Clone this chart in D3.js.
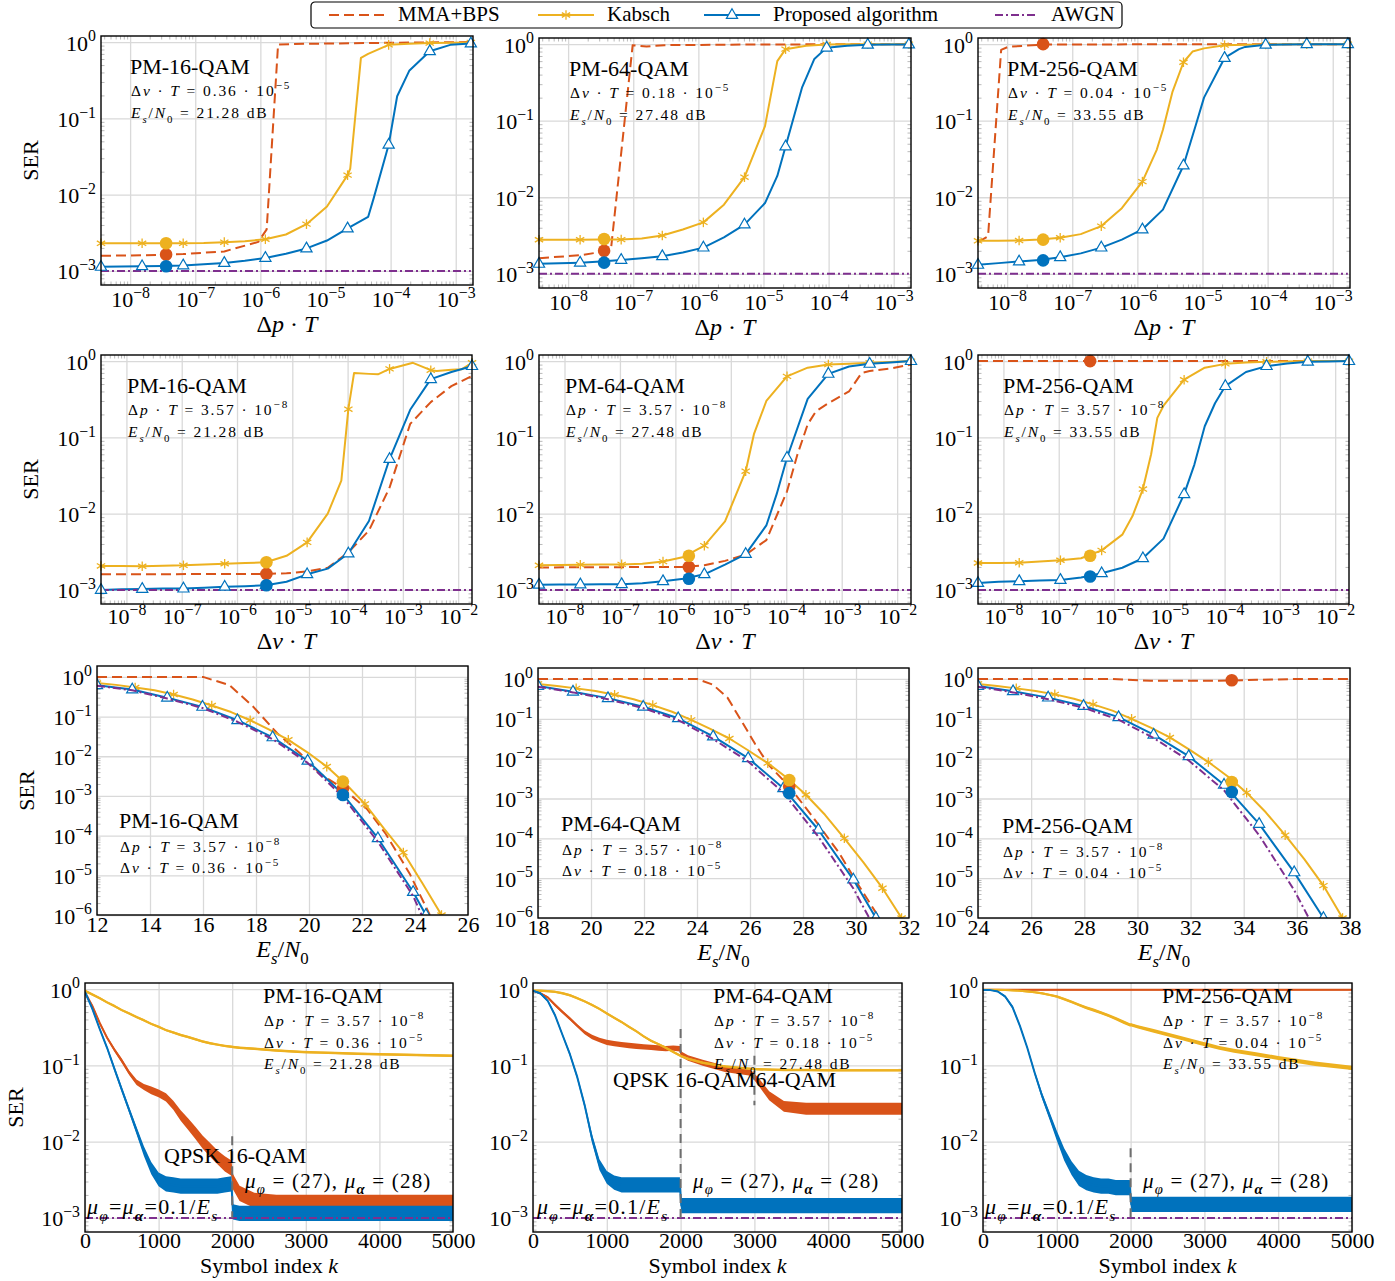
<!DOCTYPE html>
<html><head><meta charset="utf-8">
<script src="https://cdn.jsdelivr.net/npm/d3@7"></script>
<style>
html,body{margin:0;padding:0;background:#fff;}
svg text{font-family:"Liberation Serif","Times New Roman",serif;fill:#000;}
</style></head><body>
<svg id="chart" width="1395" height="1281" xmlns="http://www.w3.org/2000/svg"></svg>
<script>
// ---------------- DATA ----------------
const SERIES_NAMES = ['MMA+BPS','Kabsch','Proposed algorithm','AWGN'];
const MODS = ['PM-16-QAM','PM-64-QAM','PM-256-QAM'];
const DNU_LAB = ['0.36','0.18','0.04'];
const ESN0_LAB = ['21.28','27.48','33.55'];
const DP_LAB = '3.57';
const SWITCH_LAB = ['QPSK 16-QAM','QPSK 16-QAM64-QAM','']; 

const XT_DP = [1e-8,1e-7,1e-6,1e-5,1e-4,1e-3];
const XT_DNU = [1e-8,1e-7,1e-6,1e-5,1e-4,1e-3,1e-2];
const YT_A = [1e-3,1e-2,1e-1,1];
const YT_B = [1e-6,1e-5,1e-4,1e-3,1e-2,1e-1,1];
const XT_ES = [[12,14,16,18,20,22,24,26],[18,20,22,24,26,28,30,32],[24,26,28,30,32,34,36,38]];
const XT_K = [0,1000,2000,3000,4000,5000];

// row 1 grid (Δp·T) and row 2 grid (Δν·T)
const G1 = [3.573e-9,7.386e-9,1.528e-8,3.159e-8,6.531e-8,1.351e-7,2.793e-7,5.775e-7,1.194e-6,2.469e-6,5.105e-6,1.055e-5,2.183e-5,4.513e-5,9.333e-5,1.930e-4,3.990e-4,8.25e-4,1.706e-3];
const G2 = [3.467e-9,8.18e-9,1.93e-8,4.55e-8,1.074e-7,2.535e-7,5.98e-7,1.411e-6,3.33e-6,7.86e-6,1.854e-5,4.373e-5,1.032e-4,2.434e-4,5.743e-4,1.355e-3,3.197e-3,7.54e-3,1.78e-2];

// Row 1
const R1C1_KAB = [2.3e-3,2.3e-3,2.3e-3,2.3e-3,2.3e-3,2.32e-3,2.38e-3,2.45e-3,2.6e-3,3.0e-3,4.1e-3,7.0e-3,1.8e-2,0.7,0.92,0.95,0.97,0.98,0.99];
const R1C1_KAB_X = [[2.4e-5,2.2e-2],[3.5e-5,0.62]];
const R1C1_PROP = [1.13e-3,1.14e-3,1.15e-3,1.16e-3,1.18e-3,1.22e-3,1.27e-3,1.36e-3,1.48e-3,1.68e-3,1.97e-3,2.5e-3,3.6e-3,5.1e-3,4.5e-2,0.42,0.76,0.92,0.96];
const R1C1_PROP_X = [[5.5e-5,9e-3],[1.26e-4,0.195]];
const R1C1_MMA = [[3.573e-9,1.58e-3],[1.528e-8,1.6e-3],[6.531e-8,1.66e-3],[2.793e-7,1.8e-3],[9.3e-7,2.4e-3],[1.25e-6,3.5e-3],[1.87e-6,0.93],[5e-6,0.95],[1e-4,0.98],[1.706e-3,1.0]];
const R1C1_DOTS = [1.64e-3,2.3e-3,1.15e-3];

const R1C2_KAB = [2.79e-3,2.79e-3,2.79e-3,2.8e-3,2.8e-3,2.9e-3,3.16e-3,3.8e-3,4.7e-3,8e-3,1.83e-2,8.5e-2,0.86,0.95,0.99,1.0,1.0,1.0,1.0];
const R1C2_KAB_X = [[1.63e-5,0.6]];
const R1C2_PROP = [1.35e-3,1.37e-3,1.4e-3,1.45e-3,1.52e-3,1.6e-3,1.7e-3,1.9e-3,2.2e-3,3.0e-3,4.4e-3,8.4e-3,4.6e-2,0.36,0.9,0.95,0.98,0.99,0.99];
const R1C2_PROP_X = [[1.63e-5,1.9e-2],[3.9e-5,0.27],[6.04e-5,0.64]];
const R1C2_MMA = [[3.573e-9,1.6e-3],[1.528e-8,1.75e-3],[3.5e-8,1.95e-3],[4.58e-8,2.2e-3],[9.8e-8,0.97],[1.6e-7,0.93],[3e-7,0.97],[1e-5,0.99],[1.706e-3,1.0]];
const R1C2_DOTS = [2.0e-3,2.85e-3,1.4e-3];

const R1C3_KAB = [2.7e-3,2.7e-3,2.72e-3,2.8e-3,2.96e-3,3.3e-3,4.2e-3,7.2e-3,1.6e-2,7.6e-2,0.58,0.88,0.97,0.98,0.99,1.0,1.0,1.0,1.0];
const R1C3_KAB_X = [[1.99e-6,4.2e-2],[3.47e-6,0.24],[7.03e-6,0.8]];
const R1C3_PROP = [1.31e-3,1.38e-3,1.45e-3,1.52e-3,1.65e-3,1.85e-3,2.2e-3,2.8e-3,3.8e-3,6.9e-3,2.6e-2,0.2,0.66,0.92,0.98,0.99,1.0,1.0,1.0];
const R1C3_PROP_X = [[7.9e-6,8.8e-2],[3.63e-5,0.86]];
const R1C3_MMA = [[3.573e-9,2.6e-3],[5.1e-9,3.1e-3],[8.1e-9,0.84],[1.03e-8,0.92],[3.57e-8,0.99],[1.706e-3,1.0]];
const R1C3_DOTS = [1.0,2.8e-3,1.5e-3];
const R1_DOT_X = [3.57e-8,3.57e-8,3.57e-8];
const R1_AWGN = [[3.573e-9,1e-3],[1.706e-3,1e-3]];

// Row 2
const R2C1_KAB = [2.06e-3,2.06e-3,2.04e-3,2.08e-3,2.1e-3,2.15e-3,2.2e-3,2.25e-3,2.3e-3,2.8e-3,4.2e-3,1.0e-2,0.234,0.68,0.79,0.93,0.76,0.77,0.95];
const R2C1_KAB_X = [[7.7e-5,2.7e-2],[1.31e-4,0.7],[3.54e-4,0.67],[1.52e-3,0.95],[4.1e-3,0.74],[1.15e-2,0.78]];
const R2C1_PROP = [1.0e-3,1.02e-3,1.03e-3,1.04e-3,1.04e-3,1.07e-3,1.1e-3,1.12e-3,1.15e-3,1.28e-3,1.6e-3,1.9e-3,3.0e-3,8e-3,5.2e-2,0.23,0.58,0.72,0.86];
const R2C1_PROP_X = [];
const R2C1_MMA = [[3.467e-9,1.6e-3],[3.33e-6,1.62e-3],[7.86e-6,1.65e-3],[1.854e-5,1.75e-3],[4.373e-5,1.95e-3],[1.032e-4,3.1e-3],[2.434e-4,6.0e-3],[5.743e-4,2.2e-2],[1.355e-3,0.15],[3.197e-3,0.29],[7.54e-3,0.47],[1.78e-2,0.64]];
const R2C1_DOTS = [1.62e-3,2.3e-3,1.15e-3];

const R2C2_KAB = [2.1e-3,2.12e-3,2.14e-3,2.16e-3,2.16e-3,2.2e-3,2.35e-3,2.7e-3,3.8e-3,7.9e-3,3.6e-2,0.3,0.63,0.82,0.9,0.92,0.95,0.97,1.0];
const R2C2_KAB_X = [[2.61e-5,0.11]];
const R2C2_PROP = [1.17e-3,1.18e-3,1.18e-3,1.19e-3,1.19e-3,1.22e-3,1.3e-3,1.4e-3,1.6e-3,2.15e-3,2.95e-3,7e-3,5.4e-2,0.32,0.68,0.85,0.92,0.96,1.0];
const R2C2_PROP_X = [[6.71e-5,1.8e-2]];
const R2C2_MMA = [[3.467e-9,1.97e-3],[1.411e-6,2.0e-3],[3.33e-6,2.1e-3],[7.86e-6,2.4e-3],[1.854e-5,2.9e-3],[4.373e-5,4.5e-3],[1.032e-4,1.96e-2],[1.585e-4,5.9e-2],[2.434e-4,0.148],[3.43e-4,0.22],[5.743e-4,0.28],[1.355e-3,0.4],[2.29e-3,0.7],[3.197e-3,0.74],[7.54e-3,0.8],[1.78e-2,0.9]];
const R2C2_DOTS = [2.0e-3,2.8e-3,1.4e-3];

const R2C3_KAB = [2.25e-3,2.25e-3,2.27e-3,2.35e-3,2.45e-3,2.6e-3,3.3e-3,5.3e-3,2.1e-2,0.26,0.57,0.82,0.92,0.96,0.98,0.99,1.0,1.0,1.0];
const R2C3_KAB_X = [[2.16e-6,9.3e-3],[4.69e-6,6e-2],[6.07e-6,0.18]];
const R2C3_PROP = [1.23e-3,1.28e-3,1.3e-3,1.33e-3,1.35e-3,1.45e-3,1.65e-3,1.95e-3,2.6e-3,4.7e-3,1.8e-2,0.14,0.47,0.72,0.86,0.93,0.98,0.99,1.0];
const R2C3_PROP_X = [[2.84e-5,4.4e-2],[6.71e-5,0.28]];
const R2C3_MMA = [[3.467e-9,1.0],[1.78e-2,1.0]];
const R2C3_DOTS = [1.0,2.8e-3,1.5e-3];
const R2_DOT_X = [3.4e-6,1.75e-6,3.7e-7];
const R2_AWGN = [[3.467e-9,1e-3],[1.78e-2,1e-3]];

// Row 3 (Es/N0)
const R3C1_KX = [12,12.72,13.44,14.17,14.89,15.61,16.33,17.06,17.78,18.5,19.22,19.94,20.67,21.39,22.11,22.83,23.56,24.28,25.0];
const R3C1_KAB = [0.7,0.63,0.54,0.46,0.36,0.27,0.19,0.13,0.081,0.047,0.026,0.0126,0.0055,0.002,6.3e-4,1.5e-4,3.75e-5,6.3e-6,1.0e-6];
const R3C1_PX = [12,13.33,14.65,15.98,17.3,18.63,19.95,21.28,22.6,23.93,24.41];
const R3C1_PROP = [0.62,0.48,0.3,0.176,0.081,0.03,7.7e-3,1.1e-3,8.6e-5,3.8e-6,1e-6];
const R3C1_AX = [12,13.33,14.65,15.98,17.3,18.63,19.95,21.28,22.6,23.93,24.25];
const R3C1_AWGN = [0.6,0.46,0.285,0.165,0.074,0.027,6.8e-3,9.5e-4,7e-5,3e-6,1e-6];
const R3C1_MMA = [[12,1.0],[16,1.0],[17,0.62],[17.9,0.176],[18.8,3.8e-2],[19.66,1.2e-2],[20.4,3.7e-3],[21.28,1.55e-3],[22.2,4.6e-4],[22.9,1.1e-4],[23.8,1.1e-5],[24.56,1e-6]];
const R3C1_DOTS = [1.55e-3,2.3e-3,1.06e-3];

const R3C2_KX = [18,18.72,19.44,20.17,20.89,21.61,22.33,23.06,23.78,24.5,25.22,25.94,26.67,27.39,28.11,28.83,29.56,30.28,31.0,31.72];
const R3C2_KAB = [0.75,0.67,0.58,0.5,0.4,0.31,0.22,0.15,0.094,0.056,0.032,0.016,7.7e-3,3.3e-3,1.24e-3,3.9e-4,1.0e-4,2.5e-5,5.6e-6,1e-6];
const R3C2_PX = [18,19.32,20.64,21.97,23.29,24.61,25.93,27.26,28.58,29.9,30.75];
const R3C2_PROP = [0.67,0.48,0.33,0.2,0.103,0.036,1.03e-2,1.8e-3,1.64e-4,9.2e-6,1e-6];
const R3C2_AX = [18,19.32,20.64,21.97,23.29,24.61,25.93,27.26,28.58,29.9,30.5];
const R3C2_AWGN = [0.64,0.46,0.31,0.185,0.093,0.031,8.5e-3,1.4e-3,1.1e-4,5.5e-6,1e-6];
const R3C2_MMA = [[18,1.0],[24,1.0],[24.6,0.72],[25.15,0.34],[25.73,0.077],[26.2,2.3e-2],[26.7,7e-3],[27.48,2.0e-3],[28.36,3.5e-4],[29.36,4.3e-5],[30.12,6.3e-6],[30.88,1e-6]];
const R3C2_DOTS = [2.0e-3,2.9e-3,1.36e-3];

const R3C3_KX = [24,24.72,25.44,26.17,26.89,27.61,28.33,29.06,29.78,30.5,31.22,31.94,32.67,33.39,34.11,34.83,35.56,36.28,37.0,37.72];
const R3C3_KAB = [0.75,0.67,0.58,0.5,0.41,0.32,0.23,0.16,0.1,0.06,0.034,0.017,8.2e-3,3.6e-3,1.4e-3,4.5e-4,1.2e-4,3e-5,6.5e-6,1e-6];
const R3C3_PX = [24,25.32,26.64,27.97,29.29,30.61,31.93,33.26,34.58,35.9,37.0];
const R3C3_PROP = [0.67,0.49,0.34,0.21,0.11,0.04,1.15e-2,2.2e-3,2.3e-4,1.4e-5,1e-6];
const R3C3_AX = [24,25.32,26.64,27.97,29.29,30.61,31.93,33.26,34.58,35.9,36.45];
const R3C3_AWGN = [0.64,0.46,0.31,0.19,0.095,0.033,9e-3,1.6e-3,1.2e-4,5e-6,1e-6];
const R3C3_MMA = [[24,1.0],[29,1.0],[30.5,0.9],[33,0.9],[34.5,0.95],[36,1.0],[38,1.0]];
const R3C3_DOTS = [0.93,2.6e-3,1.45e-3];
const R3_DOT_X = [21.28,27.48,33.55];

// Row 4 (convergence vs symbol index) : centre value and noise half-width (decades)
const K = [0,100,200,300,400,500,600,700,800,900,1000,1100,1200,1300,1400,1500,1600,1700,1800,1900,1990,2010,2100,2300,2600,2950,3050,3200,3400,3700,4000,4500,5000];
const R4C1_KAB = [0.95,0.85,0.76,0.67,0.6,0.53,0.48,0.43,0.39,0.35,0.32,0.29,0.27,0.25,0.235,0.22,0.205,0.195,0.187,0.18,0.175,0.174,0.17,0.165,0.157,0.15,0.149,0.147,0.145,0.142,0.14,0.137,0.134];
const R4C1_KAB_SP = 0.016;
const R4C1_MMA = [0.9,0.6,0.36,0.23,0.16,0.115,0.08,0.06,0.052,0.047,0.043,0.038,0.03,0.022,0.017,0.013,0.0098,0.0078,0.0062,0.0051,0.0045,0.003,0.0021,0.0017,0.0016,0.0016,0.0016,0.0016,0.0016,0.0016,0.0016,0.0016,0.0016];
const R4C1_MMA_SP = [0.012,0.02,0.02,0.02,0.025,0.03,0.03,0.035,0.04,0.05,0.05,0.055,0.06,0.07,0.075,0.08,0.085,0.09,0.09,0.1,0.1,0.1,0.1,0.1,0.1,0.1,0.1,0.1,0.1,0.1,0.1,0.1,0.1];
const R4C1_PROP = [0.92,0.55,0.3,0.17,0.09,0.048,0.026,0.014,0.0075,0.0045,0.0032,0.0028,0.0027,0.0026,0.0026,0.0026,0.0026,0.0026,0.0026,0.0027,0.0028,0.0012,0.00115,0.00115,0.00115,0.00115,0.00115,0.00115,0.00115,0.00115,0.00115,0.00115,0.00115];
const R4C1_PROP_SP = [0.01,0.02,0.02,0.025,0.03,0.035,0.04,0.05,0.065,0.08,0.09,0.1,0.1,0.1,0.1,0.1,0.1,0.1,0.1,0.1,0.1,0.1,0.1,0.1,0.1,0.1,0.1,0.1,0.1,0.1,0.1,0.1,0.1];

const R4C2_KAB = [0.95,0.95,0.94,0.92,0.88,0.83,0.76,0.69,0.62,0.55,0.48,0.42,0.37,0.32,0.28,0.24,0.21,0.19,0.17,0.15,0.135,0.132,0.122,0.108,0.097,0.09,0.089,0.088,0.087,0.087,0.086,0.086,0.086];
const R4C2_KAB_SP = 0.016;
const R4C2_MMA = [0.95,0.88,0.78,0.62,0.5,0.41,0.33,0.27,0.235,0.215,0.2,0.193,0.187,0.182,0.178,0.175,0.172,0.169,0.166,0.168,0.165,0.14,0.125,0.108,0.09,0.08,0.062,0.04,0.029,0.027,0.027,0.027,0.027];
const R4C2_MMA_SP = [0.01,0.015,0.015,0.02,0.02,0.02,0.02,0.025,0.03,0.03,0.035,0.035,0.035,0.035,0.035,0.035,0.035,0.035,0.035,0.035,0.035,0.035,0.035,0.04,0.04,0.04,0.05,0.06,0.07,0.08,0.08,0.08,0.08];
const R4C2_PROP = [0.95,0.88,0.7,0.45,0.25,0.14,0.07,0.03,0.011,0.005,0.0034,0.0029,0.0027,0.0027,0.0027,0.0027,0.0027,0.0027,0.0027,0.0027,0.0027,0.00145,0.00145,0.00145,0.00145,0.00145,0.00145,0.00145,0.00145,0.00145,0.00145,0.00145,0.00145];
const R4C2_PROP_SP = [0.01,0.015,0.015,0.02,0.02,0.025,0.03,0.04,0.055,0.07,0.085,0.095,0.1,0.1,0.1,0.1,0.1,0.1,0.1,0.1,0.1,0.1,0.1,0.1,0.1,0.1,0.1,0.1,0.1,0.1,0.1,0.1,0.1];

const R4C3_MMA_K = [0,5000];
const R4C3_MMA = [0.98,0.98];
const R4C3_MMA_SP = 0.008;
const R4C3_KAB = [0.98,0.98,0.98,0.97,0.96,0.95,0.93,0.91,0.88,0.84,0.8,0.74,0.68,0.62,0.57,0.53,0.49,0.45,0.41,0.37,0.34,0.34,0.32,0.285,0.24,0.195,0.185,0.17,0.155,0.14,0.125,0.105,0.093];
const R4C3_KAB_SP = [0.008,0.008,0.008,0.01,0.01,0.012,0.012,0.014,0.014,0.016,0.016,0.018,0.018,0.018,0.02,0.02,0.02,0.02,0.022,0.022,0.022,0.022,0.022,0.024,0.024,0.025,0.025,0.025,0.026,0.026,0.027,0.028,0.028];
const R4C3_PROP = [0.97,0.97,0.93,0.8,0.58,0.33,0.17,0.08,0.04,0.022,0.012,0.0068,0.0045,0.0033,0.0029,0.0027,0.0026,0.0026,0.0025,0.0025,0.0025,0.0015,0.0015,0.0015,0.0015,0.0015,0.0015,0.0015,0.0015,0.0015,0.0015,0.0015,0.0015];
const R4C3_PROP_SP = [0.005,0.005,0.01,0.015,0.02,0.02,0.02,0.03,0.04,0.05,0.065,0.08,0.09,0.1,0.1,0.1,0.1,0.1,0.1,0.1,0.1,0.1,0.1,0.1,0.1,0.1,0.1,0.1,0.1,0.1,0.1,0.1,0.1];
const R4_AWGN = [[0,1e-3],[5000,1e-3]];
// modulation switch markers: [k, top SER, bottom SER]
const R4C1_SWITCH = [[2000,1.18e-2,1e-3]];
const R4C2_SWITCH = [[2000,0.3,1e-3],[3000,0.134,0.03]];
const R4C3_SWITCH = [[2000,8.2e-3,1e-3]];

// ---------------- LAYOUT / STYLE ----------------
const COLORS = {mma:'#D95319', kab:'#EDB120', prop:'#0072BD', awgn:'#7E2F8E', gray:'#6e6e6e'};
const DASH = {mma:'10,5', awgn:'8,3,2,3'};
const LAYOUT = [
 [{x:101,y:36,w:372,h:249},{x:539,y:38,w:372,h:250},{x:978,y:38,w:372,h:250}],
 [{x:101,y:355,w:371,h:249},{x:539,y:355,w:372,h:249},{x:978,y:355,w:371,h:249}],
 [{x:97,y:666,w:371,h:249},{x:538,y:668,w:371,h:250},{x:978,y:668,w:372,h:250}],
 [{x:85,y:983,w:368,h:249},{x:533,y:983,w:369,h:249},{x:983,y:983,w:369,h:249}]
];
const YDOM_A = [Math.pow(10,-3.185), Math.pow(10,0.08)];
const YDOM_B = [1e-6, Math.pow(10,0.275)];
const XDOM_DP = [Math.pow(10,-8.447), Math.pow(10,-2.735)];
const XDOM_DNU = [Math.pow(10,-8.46), Math.pow(10,-1.75)];

const svg = d3.select('#chart');
svg.append('rect').attr('width',1395).attr('height',1281).attr('fill','#fff');
let clipN = 0;

function rich(g, x, y, segs, o) {
  o = o || {};
  const size = o.size || 22;
  const t = g.append('text').attr('x',x).attr('y',y).attr('font-size',size)
    .attr('text-anchor', o.anchor || 'start');
  if (o.ls) t.attr('letter-spacing', o.ls);
  if (o.transform) t.attr('transform', o.transform);
  let cur = 0;
  segs.forEach(s => {
    const txt = s[0], st = s[1] || '';
    let shift = 0, fs = size;
    if (st.includes('_')) { shift = 0.3*size; fs = size*0.7; }
    if (st.includes('^')) { shift = -0.42*size; fs = size*0.72; }
    const ts = t.append('tspan').text(txt).attr('font-size', fs).attr('dy', shift - cur);
    cur = shift;
    if (st.includes('i')) ts.attr('font-style','italic');
    if (st.includes('b')) ts.attr('font-weight','bold');
  });
  return t;
}
const POW = d => { const e = Math.round(Math.log10(d)); return [['10',''],[e<0 ? '\u2212'+(-e) : String(e), '^']]; };
const LIN = d => [[String(d),'']];

function logMinors(dom) {
  const out = [];
  for (let e = Math.floor(Math.log10(dom[0])); e <= Math.ceil(Math.log10(dom[1])); e++)
    for (let m = 2; m <= 9; m++) { const v = m*Math.pow(10,e); if (v > dom[0] && v < dom[1]) out.push(v); }
  return out;
}
function gridStyle(s){ s.select('.domain').remove(); s.selectAll('line').attr('stroke','#d9d9d9').attr('stroke-width',1.3); }
function minorStyle(s){ s.select('.domain').remove(); s.selectAll('line').attr('stroke','#a8a8a8').attr('stroke-width',0.8); }

function makePanel(L, xc, yc) {
  const g = svg.append('g');
  const xs = (xc.log ? d3.scaleLog() : d3.scaleLinear()).domain(xc.dom).range([L.x, L.x+L.w]);
  const ys = d3.scaleLog().domain(yc.dom).range([L.y+L.h, L.y]);
  const id = 'clip' + (clipN++);
  svg.append('clipPath').attr('id', id).append('rect').attr('x',L.x).attr('y',L.y).attr('width',L.w).attr('height',L.h);
  const gridG = g.append('g');
  gridG.append('g').attr('transform',`translate(0,${L.y+L.h})`)
    .call(d3.axisBottom(xs).tickValues(xc.ticks).tickSize(-L.h).tickFormat('')).call(gridStyle);
  gridG.append('g').attr('transform',`translate(${L.x},0)`)
    .call(d3.axisLeft(ys).tickValues(yc.ticks).tickSize(-L.w).tickFormat('')).call(gridStyle);
  if (xc.log) {
    const mx = logMinors(xc.dom);
    gridG.append('g').attr('transform',`translate(0,${L.y+L.h})`).call(d3.axisBottom(xs).tickValues(mx).tickSize(-3.5).tickFormat('')).call(minorStyle);
    gridG.append('g').attr('transform',`translate(0,${L.y})`).call(d3.axisTop(xs).tickValues(mx).tickSize(-3.5).tickFormat('')).call(minorStyle);
  }
  const my = logMinors(yc.dom);
  gridG.append('g').attr('transform',`translate(${L.x},0)`).call(d3.axisLeft(ys).tickValues(my).tickSize(-3.5).tickFormat('')).call(minorStyle);
  gridG.append('g').attr('transform',`translate(${L.x+L.w},0)`).call(d3.axisRight(ys).tickValues(my).tickSize(-3.5).tickFormat('')).call(minorStyle);
  const data = g.append('g').attr('clip-path', `url(#${id})`);
  const over = g.append('g');
  g.append('rect').attr('x',L.x).attr('y',L.y).attr('width',L.w).attr('height',L.h)
    .attr('fill','none').attr('stroke','#000').attr('stroke-width',1.4);
  const lab = g.append('g');
  const ax = lab.append('g').attr('transform',`translate(0,${L.y+L.h})`)
    .call(d3.axisBottom(xs).tickValues(xc.ticks).tickSize(0).tickFormat(''));
  ax.select('.domain').remove();
  ax.selectAll('.tick').each(function(d){ d3.select(this).selectAll('text,line').remove(); rich(d3.select(this), 0, xc.off, xc.fmt(d), {anchor:'middle', size:22}); });
  const ay = lab.append('g').attr('transform',`translate(${L.x},0)`)
    .call(d3.axisLeft(ys).tickValues(yc.ticks).tickSize(0).tickFormat(''));
  ay.select('.domain').remove();
  ay.selectAll('.tick').each(function(d){ d3.select(this).selectAll('text,line').remove(); rich(d3.select(this), -5, 8, POW(d), {anchor:'end', size:22}); });
  return {g, xs, ys, L, data, over, lab};
}

function drawLine(P, pts, color, dash, w) {
  const p = P.data.append('path').attr('d', d3.line().x(d=>P.xs(d[0])).y(d=>P.ys(d[1]))(pts))
    .attr('fill','none').attr('stroke',color).attr('stroke-width', w || 2).attr('stroke-linejoin','round');
  if (dash) p.attr('stroke-dasharray', dash);
}
function asterisk(g, x, y, color) {
  const r = 4.8;
  [90, 30, -30].forEach(a => { const t = a*Math.PI/180;
    g.append('line').attr('x1', x - r*Math.cos(t)).attr('y1', y - r*Math.sin(t))
      .attr('x2', x + r*Math.cos(t)).attr('y2', y + r*Math.sin(t))
      .attr('stroke', color).attr('stroke-width', 1.3); });
}
function triangle(g, x, y, color) {
  g.append('path').attr('d', `M${x},${y-6.3}L${x+5.6},${y+3.4}L${x-5.6},${y+3.4}Z`)
    .attr('fill','#fff').attr('stroke',color).attr('stroke-width',1.2);
}
function markers(g, P, pts, type, color) {
  pts.forEach(d => { const x = P.xs(d[0]), y = P.ys(d[1]);
    if (type === 'ast') asterisk(g, x, y, color); else triangle(g, x, y, color); });
}
function onGrid(grid, vals, extra) {
  return grid.map((x,i) => [x, vals[i]]).concat(extra || []).sort((a,b) => a[0]-b[0]);
}
function evenPts(grid, vals) { return grid.map((x,i) => [x, vals[i]]).filter((d,i) => i % 2 === 0); }
function dots(P, x, ys) {
  const cols = [COLORS.mma, COLORS.kab, COLORS.prop];
  ys.forEach((v,i) => P.over.append('circle').attr('cx', P.xs(x)).attr('cy', P.ys(v)).attr('r', 6.3).attr('fill', cols[i]));
}
function band(P, Kx, C, S, color) {
  const pts = Kx.map((k,i) => [k, C[i], Array.isArray(S) ? S[i] : S]);
  const area = d3.area().x(d => P.xs(d[0]))
    .y0(d => P.ys(d[1]*Math.pow(10,-d[2]))).y1(d => P.ys(d[1]*Math.pow(10,d[2])));
  P.data.append('path').attr('d', area(pts)).attr('fill', color);
  P.data.append('path').attr('d', d3.line().x(d=>P.xs(d[0])).y(d=>P.ys(d[1]))(pts))
    .attr('fill','none').attr('stroke',color).attr('stroke-width',2).attr('stroke-linejoin','round');
}
function xLabel(P, segs, off, size) {
  rich(P.lab, P.L.x + P.L.w/2, P.L.y + P.L.h + off, segs, {anchor:'middle', size: size || 24});
}
function serLabel(x, L) {
  svg.append('text').attr('transform', `translate(${x},${L.y + L.h/2}) rotate(-90)`)
    .attr('text-anchor','middle').attr('dominant-baseline','central').attr('font-size',22).text('SER');
}
const segDnu = v => [['\u0394',''],['\u03bd','i'],[' \u00b7 ',''],['T','i'],[` = ${v} \u00b7 10`,''],['\u22125','^']];
const segDp = v => [['\u0394',''],['p','i'],[' \u00b7 ',''],['T','i'],[` = ${v} \u00b7 10`,''],['\u22128','^']];
const segEs = v => [['E','i'],['s','i_'],['/',''],['N','i'],['0','_'],[` = ${v} dB`,'']];
function annot(P, x, y, title, lines, gaps) {
  rich(P.lab, x, y, [[title,'']], {size:22});
  lines.forEach((segs, i) => rich(P.lab, x + 1, y + gaps[i], segs, {size:15.5, ls:1.9}));
}

// ---------------- LEGEND ----------------
(function legend(){
  const g = svg.append('g');
  g.append('rect').attr('x',311).attr('y',2).attr('width',811).attr('height',26).attr('rx',4)
    .attr('fill','#fff').attr('stroke','#000').attr('stroke-width',1.2);
  const pos = [[329,386,398],[538,594,607],[704,760,773],[995,1038,1051]];
  const cols = [COLORS.mma, COLORS.kab, COLORS.prop, COLORS.awgn];
  const dashes = [DASH.mma, null, null, DASH.awgn];
  SERIES_NAMES.forEach((n,i) => {
    const ln = g.append('line').attr('x1',pos[i][0]).attr('x2',pos[i][1]).attr('y1',15).attr('y2',15)
      .attr('stroke',cols[i]).attr('stroke-width',2);
    if (dashes[i]) ln.attr('stroke-dasharray', dashes[i]);
    const mx = (pos[i][0]+pos[i][1])/2;
    if (i === 1) asterisk(g, mx, 15, cols[i]);
    if (i === 2) triangle(g, mx, 15, cols[i]);
    g.append('text').attr('x',pos[i][2]).attr('y',21).attr('font-size',21).text(n);
  });
})();

// ---------------- ROWS 1 & 2 ----------------
const ROW1 = [
  {mma:R1C1_MMA, kab:R1C1_KAB, kabX:R1C1_KAB_X, prop:R1C1_PROP, propX:R1C1_PROP_X, dots:R1C1_DOTS},
  {mma:R1C2_MMA, kab:R1C2_KAB, kabX:R1C2_KAB_X, prop:R1C2_PROP, propX:R1C2_PROP_X, dots:R1C2_DOTS},
  {mma:R1C3_MMA, kab:R1C3_KAB, kabX:R1C3_KAB_X, prop:R1C3_PROP, propX:R1C3_PROP_X, dots:R1C3_DOTS}
];
const ROW2 = [
  {mma:R2C1_MMA, kab:R2C1_KAB, kabX:R2C1_KAB_X, prop:R2C1_PROP, propX:R2C1_PROP_X, dots:R2C1_DOTS},
  {mma:R2C2_MMA, kab:R2C2_KAB, kabX:R2C2_KAB_X, prop:R2C2_PROP, propX:R2C2_PROP_X, dots:R2C2_DOTS},
  {mma:R2C3_MMA, kab:R2C3_KAB, kabX:R2C3_KAB_X, prop:R2C3_PROP, propX:R2C3_PROP_X, dots:R2C3_DOTS}
];
const ANN_R1 = [[130,74],[569,76],[1007,76]];
const ANN_R2 = [[127,393],[565,393],[1003,393]];
[[ROW1, G1, XDOM_DP, XT_DP, R1_AWGN, R1_DOT_X, 0, ANN_R1], [ROW2, G2, XDOM_DNU, XT_DNU, R2_AWGN, R2_DOT_X, 1, ANN_R2]]
.forEach(([ROW, G, XD, XT, AW, DX, r, ANN]) => {
  ROW.forEach((d, c) => {
    const P = makePanel(LAYOUT[r][c], {log:true, dom:XD, ticks:XT, fmt:POW, off: r===0 ? 22 : 20}, {dom:YDOM_A, ticks:YT_A});
    drawLine(P, d.mma, COLORS.mma, DASH.mma);
    drawLine(P, onGrid(G, d.kab, d.kabX), COLORS.kab);
    markers(P.over, P, evenPts(G, d.kab), 'ast', COLORS.kab);
    drawLine(P, onGrid(G, d.prop, d.propX), COLORS.prop);
    markers(P.over, P, evenPts(G, d.prop), 'tri', COLORS.prop);
    drawLine(P, AW, COLORS.awgn, DASH.awgn);
    dots(P, DX[c], d.dots);
    if (r === 0) {
      xLabel(P, [['\u0394',''],['p','i'],[' \u00b7 ',''],['T','i']], 47);
      annot(P, ANN[c][0], ANN[c][1], MODS[c], [segDnu(DNU_LAB[c]), segEs(ESN0_LAB[c])], [22, 44]);
    } else {
      xLabel(P, [['\u0394',''],['\u03bd','i'],[' \u00b7 ',''],['T','i']], 45);
      annot(P, ANN[c][0], ANN[c][1], MODS[c], [segDp(DP_LAB), segEs(ESN0_LAB[c])], [22, 44]);
    }
    if (c === 0) serLabel(30, LAYOUT[r][c]);
  });
});

// ---------------- ROW 3 ----------------
const ROW3 = [
  {kx:R3C1_KX, kab:R3C1_KAB, px:R3C1_PX, prop:R3C1_PROP, ax:R3C1_AX, awgn:R3C1_AWGN, mma:R3C1_MMA, dots:R3C1_DOTS},
  {kx:R3C2_KX, kab:R3C2_KAB, px:R3C2_PX, prop:R3C2_PROP, ax:R3C2_AX, awgn:R3C2_AWGN, mma:R3C2_MMA, dots:R3C2_DOTS},
  {kx:R3C3_KX, kab:R3C3_KAB, px:R3C3_PX, prop:R3C3_PROP, ax:R3C3_AX, awgn:R3C3_AWGN, mma:R3C3_MMA, dots:R3C3_DOTS}
];
const ANN_R3 = [[119,828],[561,831],[1002,833]];
ROW3.forEach((d, c) => {
  const XT = XT_ES[c];
  const P = makePanel(LAYOUT[2][c], {log:false, dom:[XT[0], XT[XT.length-1]], ticks:XT, fmt:LIN, off:17}, {dom:YDOM_B, ticks:YT_B});
  drawLine(P, d.mma, COLORS.mma, DASH.mma);
  const kp = onGrid(d.kx, d.kab);
  drawLine(P, kp, COLORS.kab);
  const km = kp.filter((p,i) => i % 2 === 0 || i === kp.length-1);
  markers(P.data, P, km, 'ast', COLORS.kab);
  const pp = d.px.map((x,i) => [x, d.prop[i]]);
  drawLine(P, pp, COLORS.prop);
  markers(P.data, P, pp, 'tri', COLORS.prop);
  drawLine(P, d.ax.map((x,i) => [x, d.awgn[i]]), COLORS.awgn, DASH.awgn);
  dots(P, R3_DOT_X[c], d.dots);
  xLabel(P, [['E','i'],['s','i_'],['/',''],['N','i'],['0','_']], 42);
  annot(P, ANN_R3[c][0], ANN_R3[c][1], MODS[c], [segDp(DP_LAB), segDnu(DNU_LAB[c])], [24, 45]);
  if (c === 0) serLabel(26, LAYOUT[2][c]);
});

// ---------------- ROW 4 ----------------
const ROW4 = [
  {mk:K, mma:R4C1_MMA, msp:R4C1_MMA_SP, kab:R4C1_KAB, ksp:R4C1_KAB_SP, prop:R4C1_PROP, psp:R4C1_PROP_SP, sw:R4C1_SWITCH},
  {mk:K, mma:R4C2_MMA, msp:R4C2_MMA_SP, kab:R4C2_KAB, ksp:R4C2_KAB_SP, prop:R4C2_PROP, psp:R4C2_PROP_SP, sw:R4C2_SWITCH},
  {mk:R4C3_MMA_K, mma:R4C3_MMA, msp:R4C3_MMA_SP, kab:R4C3_KAB, ksp:R4C3_KAB_SP, prop:R4C3_PROP, psp:R4C3_PROP_SP, sw:R4C3_SWITCH}
];
const ANN_R4 = [[263,1003],[713,1003],[1162,1003]];
const SW_POS = [[164,1163],[613,1087],null];
const MU_POS = [[245,1188],[693,1188],[1143,1188]];
const MU0_POS = [[87,1214],[537,1214],[985,1214]];
ROW4.forEach((d, c) => {
  const P = makePanel(LAYOUT[3][c], {log:false, dom:[0,5000], ticks:XT_K, fmt:LIN, off:16}, {dom:YDOM_A, ticks:YT_A});
  band(P, d.mk, d.mma, d.msp, COLORS.mma);
  band(P, K, d.kab, d.ksp, COLORS.kab);
  band(P, K, d.prop, d.psp, COLORS.prop);
  drawLine(P, R4_AWGN, COLORS.awgn, DASH.awgn);
  d.sw.forEach(s => {
    P.over.append('line').attr('x1', P.xs(s[0])).attr('x2', P.xs(s[0]))
      .attr('y1', P.ys(s[1])).attr('y2', P.ys(s[2]))
      .attr('stroke', COLORS.gray).attr('stroke-width', 2).attr('stroke-dasharray','9,6');
  });
  xLabel(P, [['Symbol index ',''],['k','i']], 41, 22);
  rich(P.lab, ANN_R4[c][0], ANN_R4[c][1], [[MODS[c],'']], {size:22});
  [segDp(DP_LAB), segDnu(DNU_LAB[c]), segEs(ESN0_LAB[c])].forEach((segs, i) =>
    rich(P.lab, ANN_R4[c][0] + 1, ANN_R4[c][1] + [23, 45, 66][i], segs, {size:15.5, ls:1.9}));
  if (SW_POS[c]) rich(P.lab, SW_POS[c][0], SW_POS[c][1], [[SWITCH_LAB[c],'']], {size:22});
  rich(P.lab, MU_POS[c][0], MU_POS[c][1], [['\u03bc','i'],['\u03c6','i_'],[' = (27),  ',''],['\u03bc','i'],['\u03b1','bi_'],[' = (28)','']], {size:21, ls:1.2});
  rich(P.lab, MU0_POS[c][0], MU0_POS[c][1], [['\u03bc','i'],['\u03c6','i_'],['=',''],['\u03bc','i'],['\u03b1','bi_'],['=0.1/',''],['E','i'],['s','i_']], {size:22, ls:1.2});
  if (c === 0) serLabel(15, LAYOUT[3][c]);
});
</script></body></html>
